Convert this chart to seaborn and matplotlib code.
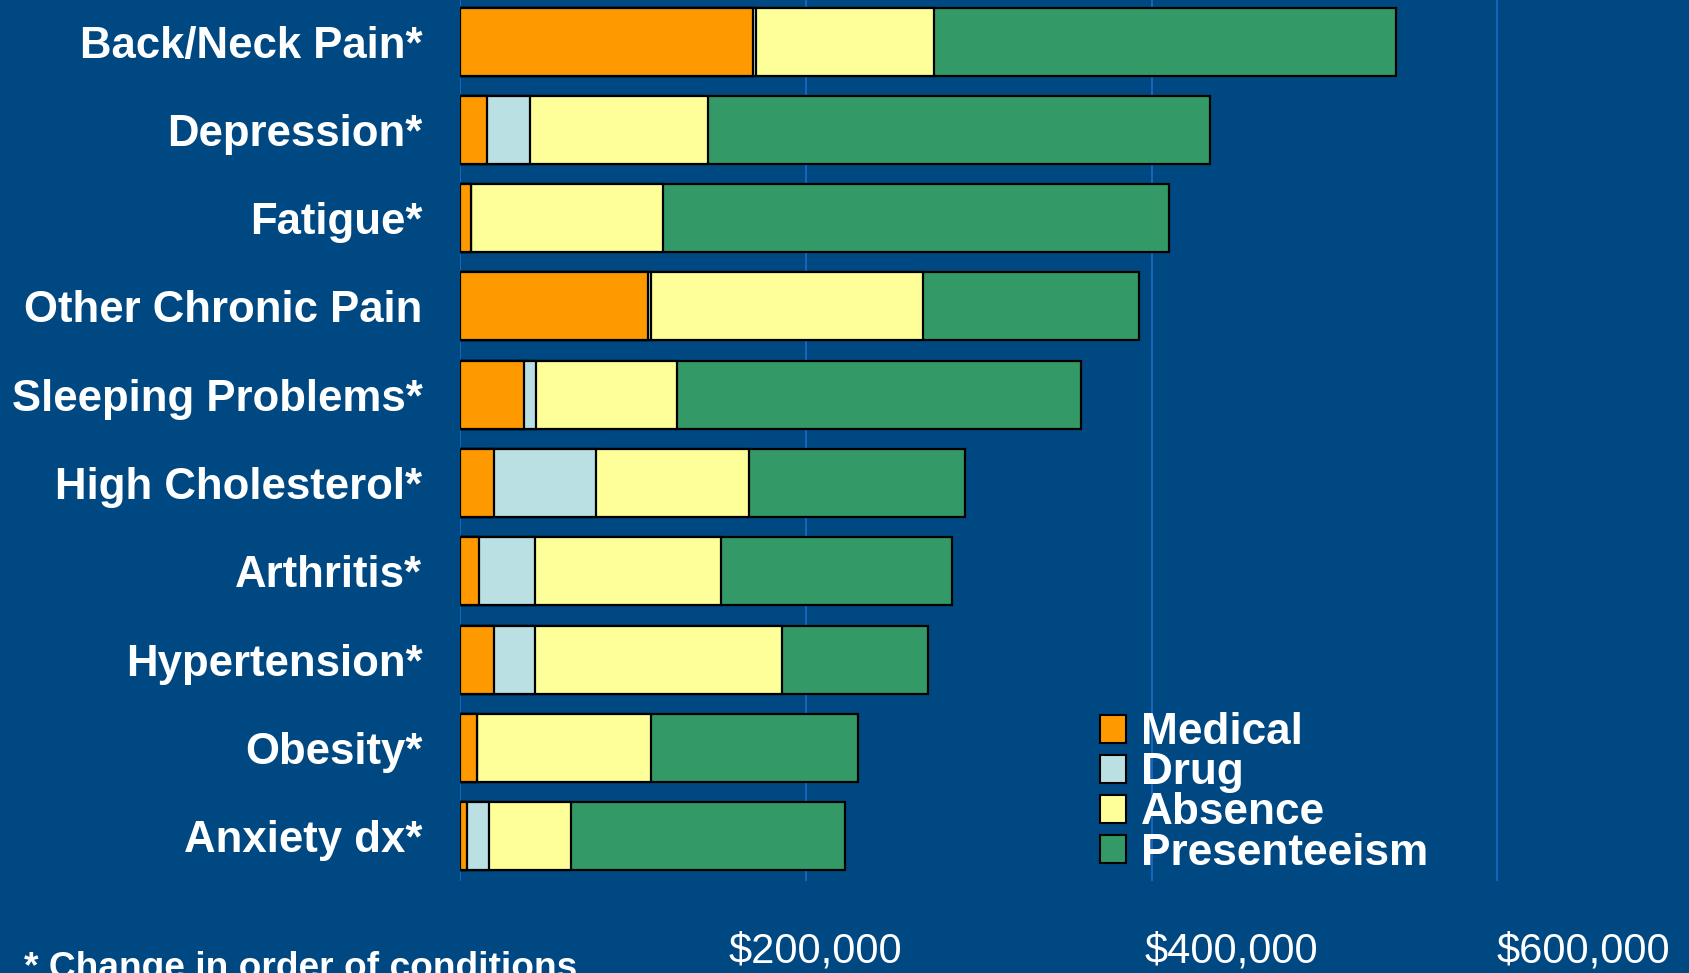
import numpy as np
import pandas as pd
import matplotlib
matplotlib.use('Agg')
import matplotlib.pyplot as plt
from matplotlib.patches import Patch
import seaborn as sns

BG = '#004882'
GRID = '#1a6cc8'

conditions = ['Back/Neck Pain*', 'Depression*', 'Fatigue*', 'Other Chronic Pain',
              'Sleeping Problems*', 'High Cholesterol*', 'Arthritis*', 'Hypertension*',
              'Obesity*', 'Anxiety dx*']

# cost per condition in $ (thousands)
medical = np.array([169.5, 15.9, 6.2, 109.0, 37.3, 19.4, 11.0, 19.4, 10.0, 4.2]) * 1000
drug = np.array([1.5, 24.5, 0.0, 1.5, 6.7, 59.1, 32.1, 23.7, 0.0, 12.7]) * 1000
absence = np.array([103.0, 103.2, 111.1, 157.1, 81.7, 88.5, 108.1, 143.2, 100.7, 47.2]) * 1000
presenteeism = np.array([267.4, 290.4, 292.7, 124.9, 233.2, 125.2, 133.4, 84.6, 119.7, 158.6]) * 1000

components = ['Medical', 'Drug', 'Absence', 'Presenteeism']
colors = ['#ff9900', '#bbe0e3', '#ffff99', '#339966']

tick_vals = [0, 200000, 400000, 600000]
tick_labels = ['$200,000', '$400,000', '$600,000']
label_pos = [205600, 445900, 649500]

sns.set_theme(style='white')
plt.rcParams['font.family'] = ['Liberation Sans', 'DejaVu Sans']

df = pd.DataFrame({
    'condition': conditions,
    'Medical': medical,
    'Drug': drug,
    'Absence': absence,
    'Presenteeism': presenteeism,
})
cum = df[components].cumsum(axis=1)

fig = plt.figure(figsize=(16.89, 9.73), dpi=100, facecolor=BG)
ax = fig.add_axes([460 / 1689, 0.0945, 1 - 460 / 1689, 0.9055])
ax.set_facecolor(BG)

# draw the cumulative totals from the longest down, so each layer covers the next
for comp, col in reversed(list(zip(components, colors))):
    sns.barplot(x=cum[comp], y=df['condition'], orient='h', width=0.77,
                color=col, edgecolor='black', linewidth=1.6, saturation=1,
                ax=ax, zorder=3)

ax.set_xlim(0, 710800)
ax.set_ylim(9.507, -0.47)
ax.set_xticks(tick_vals)
ax.set_xticklabels([])
ax.set_xticks(label_pos, minor=True)
ax.set_xticklabels(tick_labels, minor=True)
ax.grid(axis='x', which='major', color=GRID, linewidth=1.2, zorder=0)
ax.tick_params(axis='x', which='both', length=0)
ax.tick_params(axis='x', which='minor', pad=36, labelsize=30, labelcolor='white')
ax.tick_params(axis='y', length=0, pad=27, labelsize=31.5, labelcolor='white')
for lbl in ax.get_yticklabels():
    lbl.set_fontweight('bold')
ax.set_xlabel('')
ax.set_ylabel('')
for s in ax.spines.values():
    s.set_visible(False)

handles = [Patch(facecolor=c, edgecolor='black', linewidth=1.5) for c in colors]
leg = fig.legend(handles, components, loc='upper left', bbox_to_anchor=(0.651, 0.268),
                 frameon=False, prop={'size': 31.8, 'weight': 'bold'},
                 handlelength=0.6, handleheight=0.6, handletextpad=0.33,
                 labelspacing=-0.02, borderpad=0, borderaxespad=0)
for t in leg.get_texts():
    t.set_color('white')

fig.text(0.014, 0.023, '* Change in order of conditions', color='white',
         fontsize=26.7, fontweight='bold', va='top', ha='left')

fig.savefig('out.png', dpi=100, facecolor=BG)
